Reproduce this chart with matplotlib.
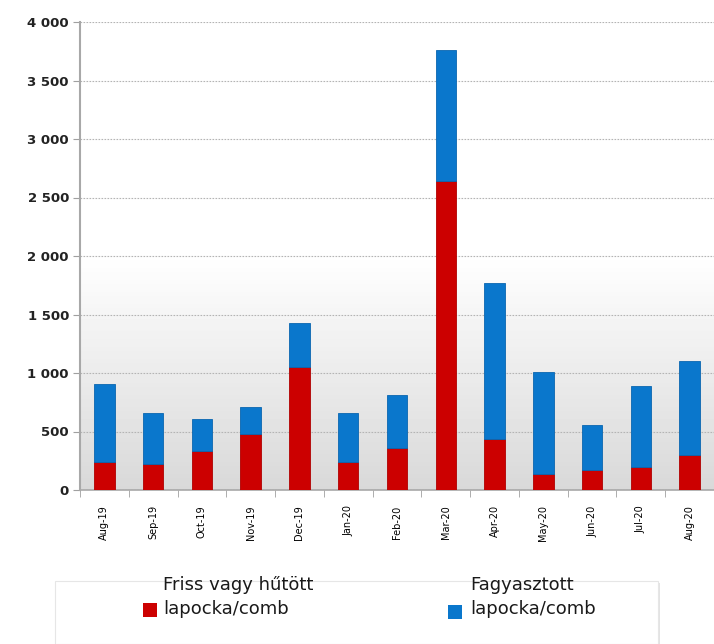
import numpy as np
import matplotlib.pyplot as plt
from matplotlib.patches import Rectangle
from matplotlib.ticker import FuncFormatter, FixedLocator

months = ["Aug-19", "Sep-19", "Oct-19", "Nov-19", "Dec-19", "Jan-20", "Feb-20",
          "Mar-20", "Apr-20", "May-20", "Jun-20", "Jul-20", "Aug-20"]
friss = [242, 220, 336, 479, 1049, 242, 362, 2641, 433, 137, 171, 194, 302]
fagyasztott_total = [903, 656, 607, 707, 1425, 656, 809, 3761, 1766, 1006, 556, 889, 1103]
fagyasztott = [t - f for t, f in zip(fagyasztott_total, friss)]

label_friss = "Friss vagy hűtött"
label_fagy = "Fagyasztott"
label_sub = "lapocka/comb"

red = "#cc0000"
blue = "#0a77cc"

fig = plt.figure(figsize=(7.14, 6.44), dpi=100)
ax = fig.add_axes([80 / 714, 1 - 490 / 644, 1 - 80 / 714, 468 / 644])

x = np.arange(len(months))
ax.bar(x, friss, width=0.42, color=red, edgecolor="#b00000", linewidth=0.6, zorder=3)
ax.bar(x, fagyasztott, width=0.42, bottom=friss, color=blue, edgecolor="#0a66b0",
       linewidth=0.6, zorder=3)

ax.set_xlim(-0.5, -0.5 + 634 / 49.2)
ax.set_ylim(0, 4000)

# grey gradient behind the bars, white from about 2000 up
grad = np.concatenate([np.linspace(0.85, 1.0, 60), np.ones(58)])[:, None]
ax.imshow(grad, cmap="gray", vmin=0, vmax=1, aspect="auto", origin="lower",
          extent=[0, 1, 0, 1], transform=ax.transAxes, zorder=0)

ax.yaxis.set_major_locator(FixedLocator(np.arange(0, 4001, 500)))
ax.yaxis.set_major_formatter(FuncFormatter(lambda v, p: f"{int(v):,}".replace(",", " ")))
ax.grid(axis="y", linestyle=(0, (1.5, 1.2)), color="#b4b4b4", linewidth=0.8, zorder=1)

ax.set_xticks(x)
ax.set_xticklabels(months, rotation=90, fontsize=7, family="DejaVu Sans")
ax.set_xticks(np.arange(-0.5, len(months)), minor=True)
ax.tick_params(axis="x", which="major", length=0, pad=11)
ax.tick_params(axis="x", which="minor", length=5, color="#a0a0a0")
ax.tick_params(axis="y", length=5, color="#a0a0a0", labelsize=9.5, pad=3)
for t in ax.get_yticklabels():
    t.set_fontweight("bold")
    t.set_color("#222222")

for s in ["top", "right"]:
    ax.spines[s].set_visible(False)
ax.spines["left"].set_color("#a8a8a8")
ax.spines["left"].set_linewidth(1.5)
ax.spines["bottom"].set_color("#a8a8a8")
ax.spines["bottom"].set_linewidth(1.2)

# legend box
W, H = 714, 644
fig.patches.append(Rectangle((57 / W, 0), 603 / W, 1 - 583 / H, transform=fig.transFigure,
                             facecolor="#c8c8c8", edgecolor="none", zorder=0, alpha=0.5))
fig.patches.append(Rectangle((55 / W, 0), 603 / W, 1 - 581 / H, transform=fig.transFigure,
                             facecolor="white", edgecolor="#e6e6e6", linewidth=0.8, zorder=1))

font = dict(fontsize=13, family="DejaVu Sans", color="#1a1a1a", va="center", ha="left", zorder=3)
fig.text(163 / W, 1 - 585 / H, label_friss, **font)
fig.text(163 / W, 1 - 609 / H, label_sub, **font)
fig.text(470 / W, 1 - 585 / H, label_fagy, **font)
fig.text(470 / W, 1 - 609 / H, label_sub, **font)
fig.patches.append(Rectangle((143 / W, 1 - 617 / H), 14 / W, 14 / H, transform=fig.transFigure,
                             facecolor=red, edgecolor="none", zorder=3))
fig.patches.append(Rectangle((448 / W, 1 - 619 / H), 14 / W, 14 / H, transform=fig.transFigure,
                             facecolor=blue, edgecolor="none", zorder=3))

fig.savefig("out.png", dpi=100)
